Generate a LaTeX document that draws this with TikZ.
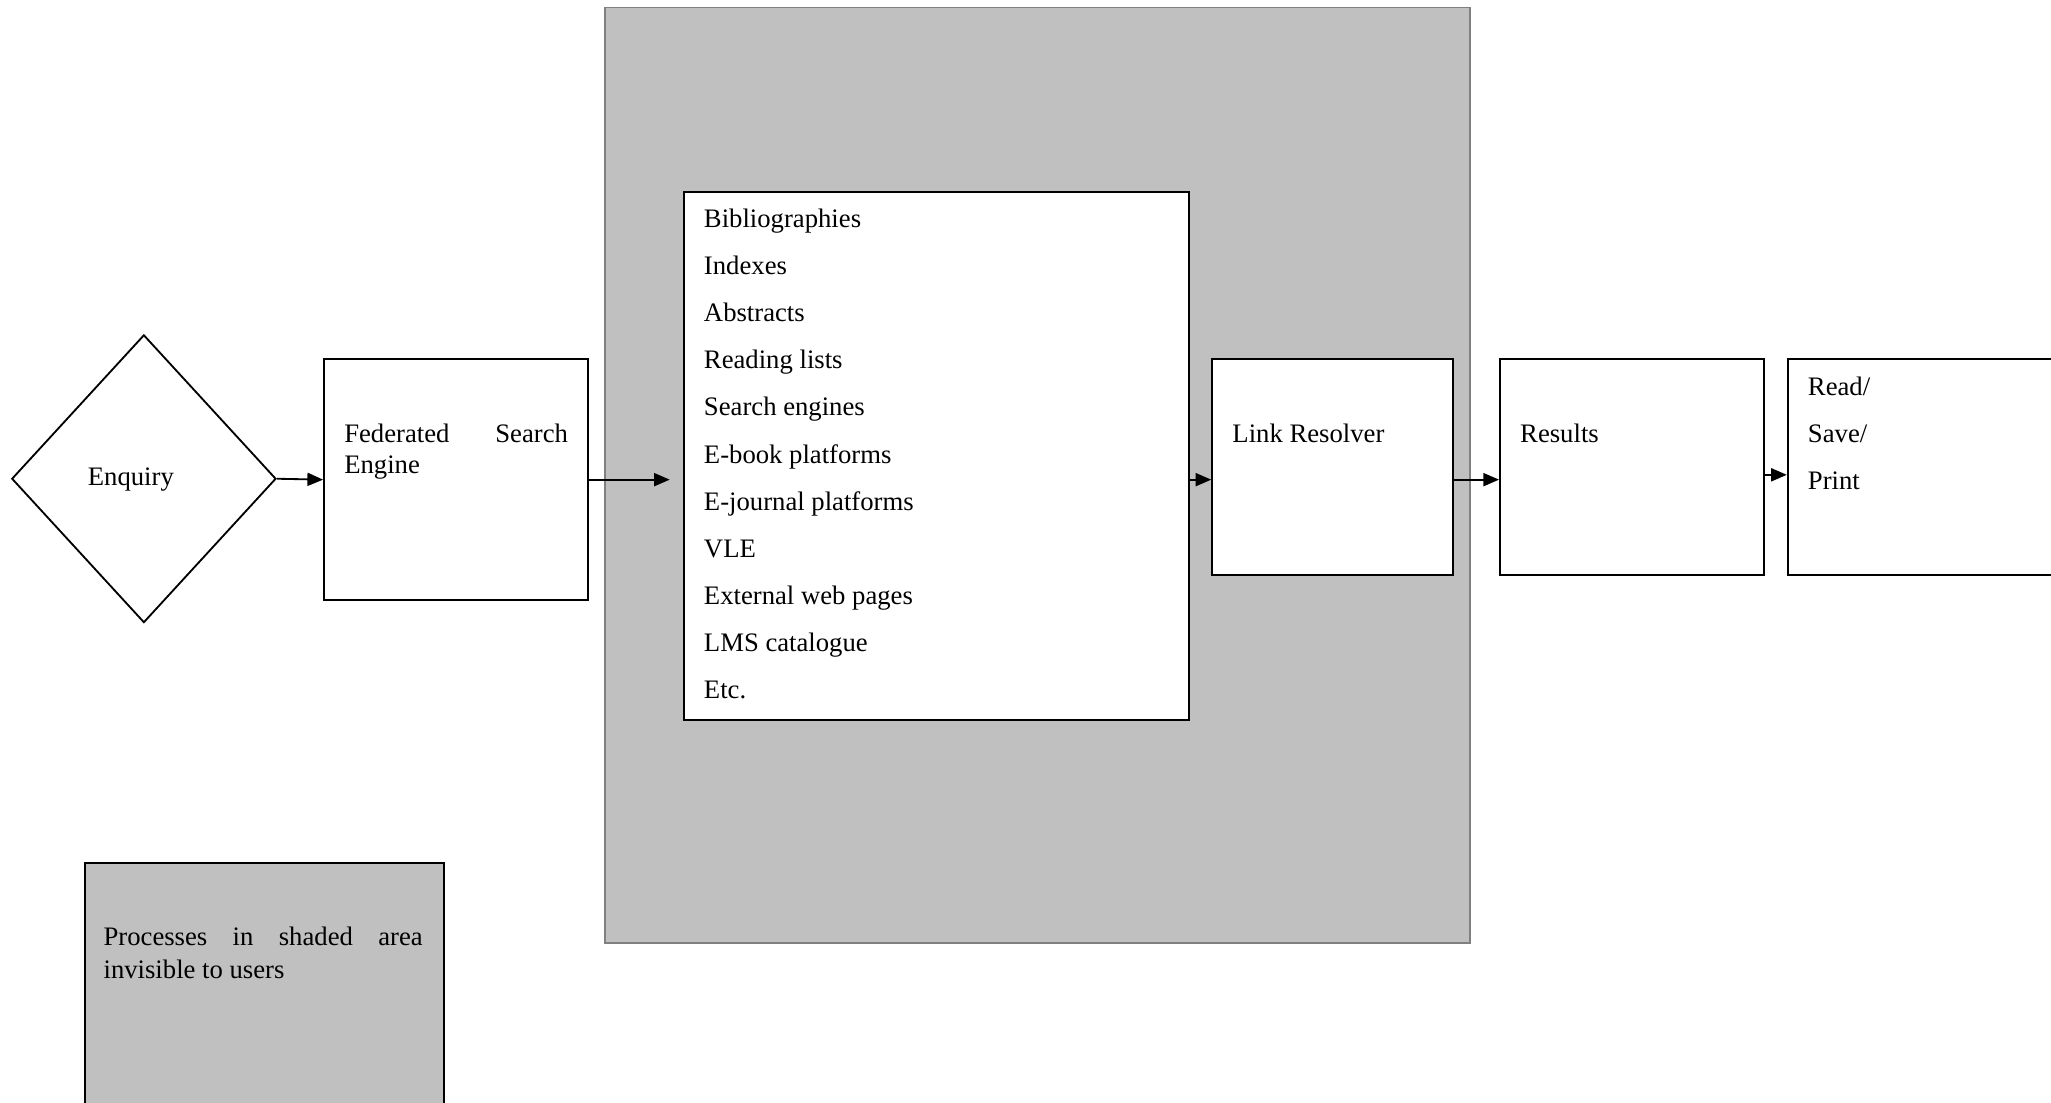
\documentclass[tikz,border=0pt]{standalone}
\usepackage{fontspec}
\setmainfont{Liberation Serif}
\usetikzlibrary{shapes.geometric,arrows.meta}
\definecolor{shadefill}{HTML}{C0C0C0}
\definecolor{shadeline}{HTML}{808080}
\newcommand\jpar[1]{\tolerance=10000\hbadness=10000\hyphenpenalty=10000\exhyphenpenalty=10000\fontsize{20.4}{#1}\selectfont}
\begin{document}
\begin{tikzpicture}[x=1pt,y=-1pt,
  box/.style={draw=black, line width=1.4pt, fill=white, inner sep=0pt, anchor=north west},
  txt/.style={inner sep=0pt, anchor=base west, font=\fontsize{20.4}{24}\selectfont},
  arr/.style={line width=1.4pt, -{Triangle[length=12pt,width=10pt]}}]
\clip (0,0) rectangle (1568,843);
\fill[white] (0,0) rectangle (1568,843);
% shaded area
\node[box, draw=shadeline, fill=shadefill, minimum width=661pt, minimum height=715pt] (shaded) at (462,5) {};
\node[box, minimum width=386pt, minimum height=404pt] (list) at (522,146) {};
\node[box, minimum width=202pt, minimum height=184pt] (fse) at (247,274) {};
\node[draw, line width=1.4pt, fill=white, diamond, minimum width=202pt, minimum height=220pt, inner sep=0pt, aspect=0.918] (enq) at (110,366) {};
\node[box, minimum width=184pt, minimum height=165pt] (lr) at (926,274) {};
\node[box, minimum width=202pt, minimum height=165pt] (res) at (1146,274) {};
\node[box, minimum width=240pt, minimum height=165pt] (rsp) at (1366,274) {};
\node[box, fill=shadefill, minimum width=275pt, minimum height=220pt] (legend) at (64,659) {};
% texts
\node[txt] (enqt) at (67,371) {Enquiry};
\node[txt] (fset) at (263,338) {\parbox[t]{171pt}{\jpar{24}Federated Search Engine}};
\node[txt] (listt) at (538,174) {\parbox[t]{340pt}{\fontsize{20.4}{36}\selectfont\raggedright
  Bibliographies\\Indexes\\Abstracts\\Reading lists\\Search engines\\E-book platforms\\E-journal platforms\\VLE\\External web pages\\LMS catalogue\\Etc.}};
\node[txt] (lrt) at (942,338) {Link Resolver};
\node[txt] (rest) at (1162,338) {Results};
\node[txt] (rspt) at (1382,302) {\parbox[t]{150pt}{\fontsize{20.4}{36}\selectfont\raggedright Read/\\Save/\\Print}};
\node[txt] (legt) at (79,723) {\parbox[t]{244pt}{\jpar{25}Processes in shaded area invisible to users}};
% connectors
\coordinate (listin) at (512,366);
\draw[arr] (enq.east) -- (fse.west);
\draw[arr] (fse.east) -- (fse.east -| listin);
\draw[arr] (list.east |- fse.east) -- (lr.west |- fse.east);
\draw[arr] (lr.east |- fse.east) -- (res.west |- fse.east);
\draw[arr] (res.east |- 0,363) -- (rsp.west |- 0,363);
\end{tikzpicture}
\end{document}
